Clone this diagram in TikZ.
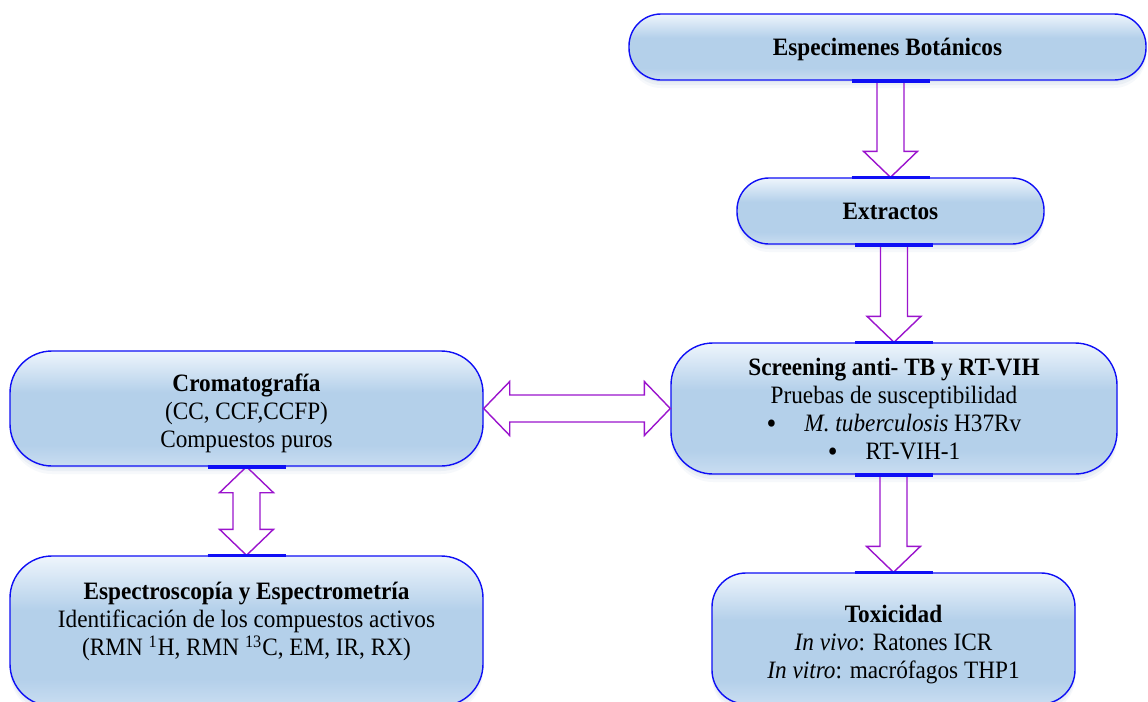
\documentclass[tikz,border=0pt]{standalone}
\usepackage{fontspec}
\setmainfont{Liberation Serif}[FakeStretch=0.93]
\usetikzlibrary{calc,shadows}
\definecolor{boxblue}{RGB}{15,15,245}
\definecolor{arrpurple}{RGB}{155,20,205}
\definecolor{shtop}{RGB}{238,245,252}
\definecolor{shmid}{RGB}{180,208,234}
\definecolor{shbot}{RGB}{201,221,241}
\definecolor{shadowc}{RGB}{150,175,210}
\pgfdeclareverticalshading{boxshade}{100bp}{color(0bp)=(shbot); color(25bp)=(shbot); color(34bp)=(shmid); color(57bp)=(shmid); color(75bp)=(shtop); color(100bp)=(shtop)}
\newcommand{\bigbul}{\raisebox{-0.9pt}{\fontsize{15pt}{14pt}\selectfont\textbullet}}
\tikzset{
  box/.style={draw=boxblue, line width=0.7pt, shading=boxshade, align=center,
    inner sep=0pt, font=\fontsize{12.5pt}{14pt}\selectfont,
    drop shadow={shadow xshift=0pt, shadow yshift=-1pt, opacity=0.15, fill=shadowc},
    drop shadow={shadow xshift=0pt, shadow yshift=-2.5pt, opacity=0.12, fill=shadowc},
    drop shadow={shadow xshift=0pt, shadow yshift=-4pt, opacity=0.08, fill=shadowc}},
  barrow/.style={draw=arrpurple, line width=0.7pt, line join=miter},
  glue/.style={draw=boxblue, line width=1.8pt}
}
\begin{document}
\begin{tikzpicture}[x=0.5pt,y=-0.5pt]
\useasboundingbox (0,0) rectangle (1148,702);
\clip (0,0) rectangle (1148,702);
\fill[white] (0,0) rectangle (1148,702);

\node[box, minimum width=258.5pt, minimum height=33pt, rounded corners=16pt] (esp) at (887.5,47) {\rule{0pt}{11pt}\textbf{Especimenes Botánicos}};
\node[box, minimum width=153.5pt, minimum height=33pt, rounded corners=16pt] (ext) at (890.5,211) {\textbf{Extractos}};
\node[box, minimum width=223pt, minimum height=65.5pt, rounded corners=21pt] (scr) at (894,408.5) {\rule{0pt}{10pt}\textbf{Screening anti- TB y RT-VIH}\\Pruebas de susceptibilidad\\\bigbul\hspace{14pt}\textit{M. tuberculosis} H37Rv\\\bigbul\hspace{14pt}RT-VIH-1};
\node[box, minimum width=181.5pt, minimum height=65.5pt, rounded corners=17pt] (tox) at (893.5,638.5) {\rule{0pt}{14.5pt}\textbf{Toxicidad}\\\textit{In vivo}: Ratones ICR\\\textit{In vitro}: macrófagos THP1};
\node[box, minimum width=236.5pt, minimum height=57.5pt, rounded corners=21pt] (crom) at (246.5,408.5) {\rule{0pt}{13.5pt}\textbf{Cromatografía}\\(CC, CCF,CCFP)\\Compuestos puros};
\node[box, minimum width=236.5pt, minimum height=75pt, rounded corners=21pt] (espc) at (246.5,631) {\rule{0pt}{15pt}\textbf{Espectroscopía y Espectrometría}\\Identificación de los compuestos activos\\(RMN \textsuperscript{1}H, RMN \textsuperscript{13}C, EM, IR, RX)\\\strut};

% single vertical block arrows
\foreach \a/\b in {esp/ext, ext/scr, scr/tox}{
  \draw[barrow] let \p1=(\a.south), \p2=(\b.north) in
    (\x2-6.75pt,\y1) -- (\x2-6.75pt,\y2+13pt) -- (\x2-13.5pt,\y2+13pt) -- (\x2,\y2)
    -- (\x2+13.5pt,\y2+13pt) -- (\x2+6.75pt,\y2+13pt) -- (\x2+6.75pt,\y1);
  \draw[glue] let \p1=(\a.south), \p2=(\b.north) in
    (\x2-19.5pt,\y1) -- (\x2+19.5pt,\y1) (\x2-19.5pt,\y2) -- (\x2+19.5pt,\y2);
}

% vertical double arrow
\draw[barrow] let \p1=(crom.south), \p2=(espc.north) in
  (\x1,\y1) -- (\x1+13.5pt,\y1-13pt) -- (\x1+6.75pt,\y1-13pt) -- (\x1+6.75pt,\y2+13pt)
  -- (\x1+13.5pt,\y2+13pt) -- (\x1,\y2) -- (\x1-13.5pt,\y2+13pt) -- (\x1-6.75pt,\y2+13pt)
  -- (\x1-6.75pt,\y1-13pt) -- (\x1-13.5pt,\y1-13pt) -- cycle;
\draw[glue] let \p1=(crom.south), \p2=(espc.north) in
  (\x1-19.5pt,\y1) -- (\x1+19.5pt,\y1) (\x1-19.5pt,\y2) -- (\x1+19.5pt,\y2);

% horizontal double arrow
\draw[barrow] let \p1=(crom.east), \p2=(scr.west) in
  (\x1,\y1) -- (\x1+13pt,\y1+13.5pt) -- (\x1+13pt,\y1+6.75pt) -- (\x2-13pt,\y1+6.75pt)
  -- (\x2-13pt,\y1+13.5pt) -- (\x2,\y1) -- (\x2-13pt,\y1-13.5pt) -- (\x2-13pt,\y1-6.75pt)
  -- (\x1+13pt,\y1-6.75pt) -- (\x1+13pt,\y1-13.5pt) -- cycle;
\end{tikzpicture}
\end{document}
